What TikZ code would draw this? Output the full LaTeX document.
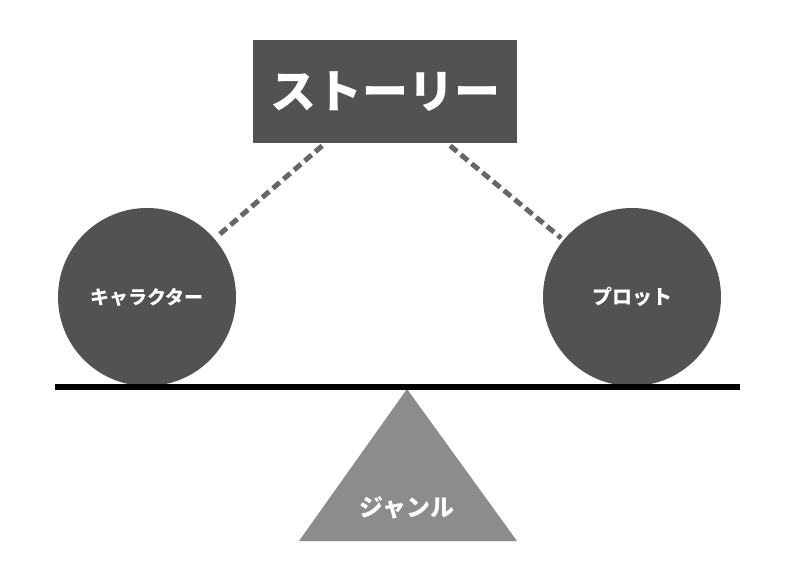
\documentclass[tikz,border=0pt]{standalone}
\usepackage{fontspec}
\newfontfamily\cjk{Noto Sans CJK JP}
\begin{document}
\begin{tikzpicture}[x=1pt, y=-1pt,
    dark/.style={fill=black!68, draw=none, text=white},
    ball/.style={dark, circle, minimum size=178pt, inner sep=0pt},
    link/.style={line width=5pt, black!60, dash pattern=on 9pt off 5pt, shorten <=4pt, shorten >=3pt}]
    \useasboundingbox (0,0) rectangle (800,574);
    \fill[white](0,0) rectangle (800,574);
    \node[dark, minimum width=264pt, minimum height=103pt](story)at(385, 91.5){\cjk\bfseries\fontsize{46}{50}\selectfont ストーリー};
    \node[ball](chara)at(147, 297){\cjk\bfseries\fontsize{19}{22}\selectfont キャラクター};
    \node[ball](plot)at(632, 297){\cjk\bfseries\fontsize{20}{22}\selectfont プロット};
    \draw[link](story)--(chara);
    \draw[link](story)--(plot);
    \fill[black!45](407, 389)--(517, 541)--(299, 541)--cycle;
    \node[text=white](genre)at(407, 508){\cjk\bfseries\fontsize{24}{26}\selectfont ジャンル};
    \coordinate (barL) at (55, 387);
    \coordinate (barR) at (740, 387);
    \draw[line width=6pt](barL)--(barR);
\end{tikzpicture}
\end{document}
